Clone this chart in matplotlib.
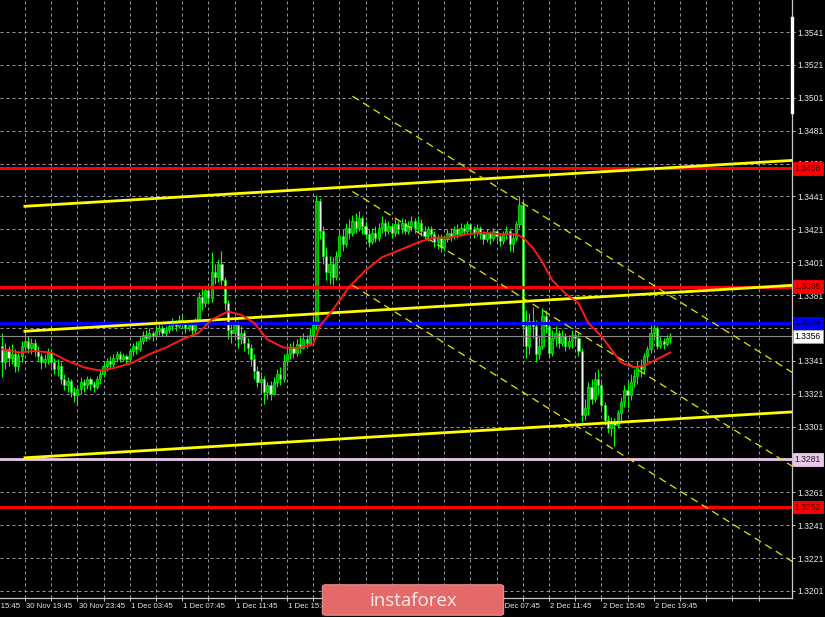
import matplotlib.pyplot as plt
import matplotlib.transforms as mtransforms
from matplotlib.patches import FancyBboxPatch
import numpy as np
import pandas as pd

# GBPUSD M15, first bar 30 Nov 18:00
start = pd.Timestamp("2020-11-30 18:00")
bar_len = pd.Timedelta(minutes=15)
first_open = 1.3350

close = [
    1.3340, 1.3348, 1.3343, 1.3345, 1.3338, 1.3344, 1.3350, 1.3353, 1.3349, 1.3352,
    1.3347, 1.3344, 1.3340, 1.3342, 1.3346, 1.3340, 1.3336, 1.3338, 1.3330, 1.3326,
    1.3329, 1.3322, 1.3320, 1.3324, 1.3328, 1.3326, 1.3330, 1.3327, 1.3325, 1.3330,
    1.3333, 1.3338, 1.3341, 1.3339, 1.3343, 1.3345, 1.3342, 1.3344, 1.3342, 1.3347,
    1.3350, 1.3348, 1.3353, 1.3357, 1.3355, 1.3358, 1.3356, 1.3359, 1.3361, 1.3358,
    1.3360, 1.3362, 1.3364, 1.3362, 1.3366, 1.3364, 1.3361, 1.3363, 1.3360, 1.3365,
    1.3380, 1.3376, 1.3384, 1.3379, 1.3395, 1.3392, 1.3400, 1.3390, 1.3376, 1.3360,
    1.3358, 1.3363, 1.3354, 1.3358, 1.3352, 1.3349, 1.3342, 1.3335, 1.3328, 1.3330,
    1.3322, 1.3326, 1.3321, 1.3328, 1.3333, 1.3330, 1.3341, 1.3345, 1.3349, 1.3346,
    1.3351, 1.3349, 1.3354, 1.3352, 1.3357, 1.3363, 1.3438, 1.3420, 1.3405, 1.3395,
    1.3400, 1.3392, 1.3405, 1.3417, 1.3412, 1.3422, 1.3419, 1.3426, 1.3422, 1.3428,
    1.3423, 1.3418, 1.3413, 1.3419, 1.3416, 1.3422, 1.3425, 1.3420, 1.3423, 1.3419,
    1.3424, 1.3421, 1.3425, 1.3420, 1.3423, 1.3426, 1.3422, 1.3425, 1.3420, 1.3417,
    1.3421, 1.3418, 1.3413, 1.3416, 1.3410, 1.3415, 1.3419, 1.3417, 1.3421, 1.3418,
    1.3422, 1.3420, 1.3424, 1.3421, 1.3419, 1.3422, 1.3418, 1.3415, 1.3419, 1.3416,
    1.3420, 1.3417, 1.3414, 1.3418, 1.3420, 1.3412, 1.3416, 1.3424, 1.3436, 1.3362,
    1.3350, 1.3365, 1.3362, 1.3345, 1.3350, 1.3368, 1.3362, 1.3346, 1.3355, 1.3358,
    1.3352, 1.3356, 1.3350, 1.3353, 1.3357, 1.3355, 1.3347, 1.3308, 1.3312, 1.3325,
    1.3318, 1.3330, 1.3326, 1.3314, 1.3305, 1.3300, 1.3304, 1.3302, 1.3309, 1.3316,
    1.3323, 1.3320, 1.3328, 1.3332, 1.3338, 1.3336, 1.3344, 1.3348, 1.3358, 1.3361,
    1.3350, 1.3353, 1.3351, 1.3355, 1.3356,
]
high = [
    1.3358, 1.3352, 1.3350, 1.3351, 1.3348, 1.3347, 1.3353, 1.3358, 1.3356, 1.3355,
    1.3354, 1.3350, 1.3346, 1.3345, 1.3349, 1.3348, 1.3343, 1.3342, 1.3340, 1.3333,
    1.3331, 1.3330, 1.3325, 1.3326, 1.3331, 1.3330, 1.3332, 1.3331, 1.3329, 1.3332,
    1.3336, 1.3340, 1.3343, 1.3344, 1.3345, 1.3347, 1.3347, 1.3346, 1.3345, 1.3349,
    1.3352, 1.3353, 1.3356, 1.3359, 1.3360, 1.3361, 1.3359, 1.3362, 1.3364, 1.3363,
    1.3362, 1.3365, 1.3367, 1.3366, 1.3369, 1.3368, 1.3366, 1.3365, 1.3364, 1.3367,
    1.3383, 1.3386, 1.3387, 1.3388, 1.3407, 1.3400, 1.3403, 1.3408, 1.3392, 1.3378,
    1.3364, 1.3367, 1.3365, 1.3362, 1.3360, 1.3355, 1.3351, 1.3345, 1.3338, 1.3334,
    1.3332, 1.3328, 1.3329, 1.3331, 1.3336, 1.3337, 1.3345, 1.3350, 1.3352, 1.3353,
    1.3354, 1.3356, 1.3358, 1.3357, 1.3361, 1.3368, 1.3442, 1.3440, 1.3423, 1.3410,
    1.3405, 1.3404, 1.3408, 1.3420, 1.3421, 1.3425, 1.3427, 1.3430, 1.3431, 1.3432,
    1.3429, 1.3426, 1.3421, 1.3422, 1.3423, 1.3425, 1.3429, 1.3427, 1.3426, 1.3425,
    1.3427, 1.3426, 1.3428, 1.3427, 1.3426, 1.3429, 1.3428, 1.3429, 1.3427, 1.3423,
    1.3423, 1.3423, 1.3420, 1.3418, 1.3418, 1.3417, 1.3421, 1.3422, 1.3423, 1.3424,
    1.3425, 1.3424, 1.3426, 1.3425, 1.3423, 1.3424, 1.3423, 1.3420, 1.3421, 1.3420,
    1.3422, 1.3421, 1.3419, 1.3420, 1.3423, 1.3421, 1.3418, 1.3426, 1.3441, 1.3438,
    1.3372, 1.3370, 1.3374, 1.3366, 1.3357, 1.3373, 1.3372, 1.3364, 1.3360, 1.3362,
    1.3360, 1.3360, 1.3358, 1.3357, 1.3360, 1.3359, 1.3358, 1.3349, 1.3318, 1.3328,
    1.3330, 1.3334, 1.3336, 1.3328, 1.3316, 1.3308, 1.3307, 1.3306, 1.3311, 1.3319,
    1.3326, 1.3328, 1.3333, 1.3336, 1.3341, 1.3342, 1.3346, 1.3350, 1.3363, 1.3364,
    1.3362, 1.3356, 1.3355, 1.3357, 1.3358,
]
low = [
    1.3331, 1.3336, 1.3338, 1.3339, 1.3334, 1.3335, 1.3340, 1.3347, 1.3346, 1.3345,
    1.3344, 1.3341, 1.3336, 1.3337, 1.3339, 1.3337, 1.3333, 1.3332, 1.3327, 1.3323,
    1.3322, 1.3319, 1.3316, 1.3314, 1.3321, 1.3322, 1.3324, 1.3323, 1.3322, 1.3324,
    1.3327, 1.3331, 1.3335, 1.3336, 1.3337, 1.3340, 1.3340, 1.3341, 1.3339, 1.3340,
    1.3344, 1.3345, 1.3347, 1.3351, 1.3353, 1.3354, 1.3353, 1.3355, 1.3357, 1.3356,
    1.3356, 1.3358, 1.3360, 1.3359, 1.3361, 1.3361, 1.3358, 1.3359, 1.3357, 1.3358,
    1.3364, 1.3372, 1.3374, 1.3376, 1.3377, 1.3388, 1.3389, 1.3387, 1.3372, 1.3354,
    1.3352, 1.3355, 1.3349, 1.3351, 1.3347, 1.3345, 1.3338, 1.3330, 1.3325, 1.3322,
    1.3315, 1.3318, 1.3317, 1.3320, 1.3325, 1.3326, 1.3328, 1.3338, 1.3342, 1.3343,
    1.3344, 1.3346, 1.3348, 1.3349, 1.3350, 1.3355, 1.3360, 1.3415, 1.3400, 1.3390,
    1.3388, 1.3387, 1.3390, 1.3402, 1.3408, 1.3410, 1.3415, 1.3417, 1.3419, 1.3420,
    1.3418, 1.3415, 1.3410, 1.3412, 1.3413, 1.3414, 1.3419, 1.3417, 1.3418, 1.3416,
    1.3417, 1.3418, 1.3419, 1.3418, 1.3418, 1.3420, 1.3419, 1.3420, 1.3417, 1.3415,
    1.3414, 1.3416, 1.3410, 1.3409, 1.3407, 1.3408, 1.3413, 1.3414, 1.3415, 1.3416,
    1.3417, 1.3418, 1.3419, 1.3418, 1.3416, 1.3417, 1.3415, 1.3412, 1.3413, 1.3412,
    1.3414, 1.3413, 1.3411, 1.3412, 1.3415, 1.3408, 1.3407, 1.3414, 1.3422, 1.3350,
    1.3343, 1.3345, 1.3355, 1.3340, 1.3342, 1.3348, 1.3358, 1.3343, 1.3344, 1.3350,
    1.3349, 1.3350, 1.3347, 1.3348, 1.3349, 1.3351, 1.3344, 1.3304, 1.3305, 1.3308,
    1.3315, 1.3316, 1.3320, 1.3311, 1.3302, 1.3297, 1.3295, 1.3289, 1.3300, 1.3305,
    1.3313, 1.3312, 1.3317, 1.3325, 1.3327, 1.3331, 1.3333, 1.3340, 1.3346, 1.3354,
    1.3348, 1.3349, 1.3348, 1.3350, 1.3352,
]

# moving average, sampled at these bars
ma_bars = [0, 5, 10, 15, 20, 25, 30, 35, 40, 45, 50, 55, 60, 64, 69, 73, 77, 81,
           86, 91, 95, 97, 101, 106, 111, 116, 121, 127, 132, 137, 142, 147, 152,
           157, 159, 162, 165, 168, 172, 176, 179, 183, 186, 189, 193, 196, 200, 204]
ma_vals = [1.3348, 1.3346, 1.3347, 1.3346, 1.3341, 1.3337, 1.3335, 1.3337, 1.3340,
           1.3345, 1.3349, 1.3354, 1.3358, 1.3366, 1.3371, 1.3369, 1.3364, 1.3354,
           1.3349, 1.3349, 1.3351, 1.3362, 1.3372, 1.3386, 1.3396, 1.3404, 1.3408,
           1.3413, 1.3416, 1.3416, 1.3418, 1.3419, 1.3418, 1.3418, 1.3416, 1.3410,
           1.3401, 1.3390, 1.3382, 1.3376, 1.3364, 1.3356, 1.3348, 1.3340, 1.3337,
           1.3338, 1.3342, 1.3346]

red_levels = [1.3458, 1.3386, 1.3252]
blue_level = 1.3364
pink_level = 1.3281
bid = 1.3356

# rising channel (solid) and falling channel (dashed): (bar0, price0, bar1, price1)
rise_channel = [(7, 1.3435, 242, 1.3463), (7, 1.3359, 242, 1.3387), (7, 1.3282, 242, 1.3310)]
fall_channel = [(107, 1.3502, 242, 1.3333), (107, 1.3444, 242, 1.3276), (107, 1.3387, 242, 1.3218)]

price_ticks = np.round(np.arange(1.3201, 1.35415, 0.002), 4)

label_times = pd.date_range("2020-11-30 15:45", "2020-12-02 19:45", freq="4h")
grid_times = pd.date_range("2020-11-30 19:45", "2020-12-03 03:45", freq="2h")

close = np.array(close)
high = np.array(high)
low = np.array(low)
opn = np.r_[first_open, close[:-1]]
high = np.maximum(high, np.maximum(opn, close))
low = np.minimum(low, np.minimum(opn, close))
idx = np.arange(len(close))


def to_bar(times):
    return (times - start) / bar_len


plt.rcParams['font.family'] = ['Liberation Sans', 'DejaVu Sans']
fig = plt.figure(figsize=(8.25, 6.17), dpi=100, facecolor='black')
ax = fig.add_axes([0, 19 / 617, 792 / 825, 598 / 617], facecolor='black')

# grid
grid_style = dict(color='#9098a4', lw=0.72, ls=(0, (3, 3)), zorder=0)
for p in price_ticks:
    ax.axhline(p, **grid_style)
for b in to_bar(grid_times):
    ax.axvline(b, **grid_style)

# candles
bull = close >= opn
ax.vlines(idx, low, high, color='#00ff00', lw=0.8, zorder=2)
body_lo = np.minimum(opn, close)
body_h = np.abs(close - opn)
ax.bar(idx[bull], body_h[bull], bottom=body_lo[bull], width=0.66,
       color='#00a800', edgecolor='#00ff00', lw=0.5, zorder=3)
ax.bar(idx[~bull], body_h[~bull], bottom=body_lo[~bull], width=0.66,
       color='#f2fff2', edgecolor='#00e000', lw=0.5, zorder=3)

# levels
ax.axhline(bid, color='#8c8c8c', lw=0.8, zorder=4)
ax.axhline(pink_level, color='#ecc8ec', lw=2.0, zorder=4)
for p in red_levels:
    ax.axhline(p, color='#ff0000', lw=2.2, zorder=4)
ax.axhline(blue_level, color='#0000ff', lw=2.2, zorder=4)

for b0, p0, b1, p1 in rise_channel:
    ax.plot([b0, b1], [p0, p1], color='#ffff00', lw=2.0, zorder=5)
for b0, p0, b1, p1 in fall_channel:
    ax.plot([b0, b1], [p0, p1], color='#e6e600', lw=0.9, ls=(0, (6, 4)), zorder=5)

ax.plot(ma_bars, ma_vals, color='#ff1a1a', lw=1.4, zorder=6)

# axes frame
for side in ('top', 'left'):
    ax.spines[side].set_visible(False)
for side in ('right', 'bottom'):
    ax.spines[side].set_color('#c8c8c8')
    ax.spines[side].set_linewidth(0.9)

ax.yaxis.tick_right()
ax.set_yticks(price_ticks)
ax.set_yticklabels([f"{p:.4f}" for p in price_ticks])
ax.tick_params(axis='y', direction='out', length=2.5, width=0.7, color='#c8c8c8',
               labelcolor='#e8e8e8', labelsize=6.2, pad=1.2)
ax.set_xticks(to_bar(grid_times))
ax.set_xticklabels([])
ax.tick_params(axis='x', direction='out', length=2.5, width=0.7, color='#c8c8c8')

# limits last, so the tick calls cannot widen them
ax.set_xlim(-0.61, 241.2)
ax.set_ylim(1.31967, 1.35605)

xtrans = mtransforms.blended_transform_factory(ax.transData, ax.transAxes)
for t, b in zip(label_times, to_bar(label_times)):
    ax.text(b + 0.4, -0.015, f"{t.day} {t.strftime('%b')} {t.strftime('%H:%M')}",
            transform=xtrans, ha='left', va='center', fontsize=5.6,
            color='#e8e8e8', clip_on=False)

# price tags on the scale
ytrans = mtransforms.blended_transform_factory(ax.transAxes, ax.transData)
tags = [(red_levels[0], '#ff0000', '#3a0000'), (red_levels[1], '#ff0000', '#3a0000'),
        (blue_level, '#0000ff', '#00002a'), (bid, '#ffffff', '#000000'),
        (pink_level, '#ecc8ec', '#202020'), (red_levels[2], '#ff0000', '#3a0000')]
for p, fc, tc in tags:
    ax.text(1.0 + 2.5 / 792, p, f"{p:.4f}", transform=ytrans, ha='left', va='center',
            fontsize=6.2, color=tc, clip_on=False, zorder=10,
            bbox=dict(boxstyle='square,pad=0.22', fc=fc,
                      ec='#a0a0a0' if fc == '#ffffff' else fc, lw=0.6))

ax.plot([1.0, 1.0], [1.35495, 1.34923], transform=ytrans, color='white', lw=2.4,
        clip_on=False, zorder=9)

# logo
logo = FancyBboxPatch((324 / 825, 3 / 617), 178 / 825, 28 / 617,
                      boxstyle='round,pad=0.002,rounding_size=0.004',
                      transform=fig.transFigure, fc='#e46a6a', ec='#f29090', lw=0.8,
                      zorder=20)
fig.patches.append(logo)
fig.text(413 / 825, 16.5 / 617, "instaforex", ha='center', va='center', fontsize=13.5,
         color='#fdeaea', family=['Open Sans', 'DejaVu Sans'], zorder=21)

fig.savefig('out.png', dpi=100, facecolor='black')
